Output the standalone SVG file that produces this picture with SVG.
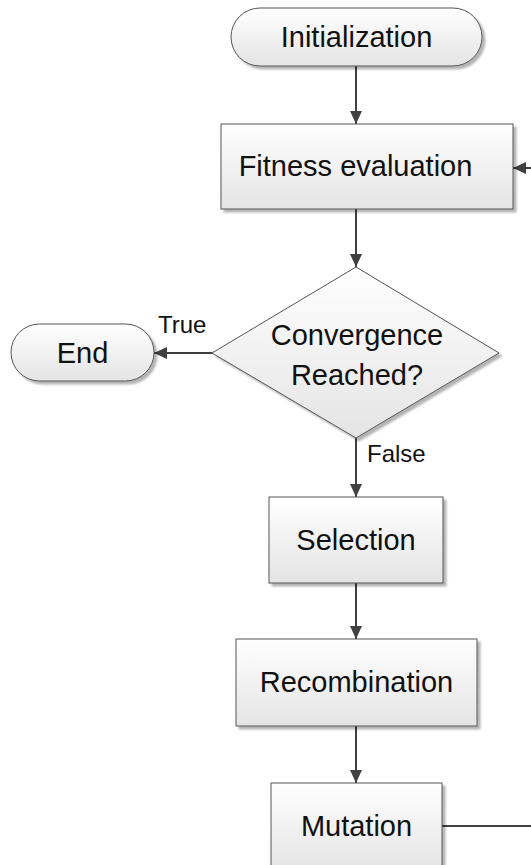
<svg xmlns="http://www.w3.org/2000/svg" width="531" height="865" viewBox="0 0 531 865">
<defs>
<linearGradient id="g" x1="0" y1="0" x2="0" y2="1">
<stop offset="0" stop-color="#ffffff"/>
<stop offset="1" stop-color="#e4e4e4"/>
</linearGradient>
<filter id="sh" x="-10%" y="-10%" width="130%" height="130%">
<feGaussianBlur in="SourceAlpha" stdDeviation="0.8"/>
<feOffset dx="3" dy="3" result="b"/>
<feComponentTransfer><feFuncA type="linear" slope="0.3"/></feComponentTransfer>
<feMerge><feMergeNode/><feMergeNode in="SourceGraphic"/></feMerge>
</filter>
<marker id="ah" viewBox="0 0 13 12" refX="13" refY="6" markerWidth="13" markerHeight="12" markerUnits="userSpaceOnUse" orient="auto">
<path d="M0,0 L13,6 L0,12 Z" fill="#404040"/>
</marker>
</defs>
<style>
.n{fill:url(#g);stroke:#555;stroke-width:1;filter:url(#sh)}
.t{font-family:"Liberation Sans",Arial,sans-serif;font-size:29px;fill:#111;text-anchor:middle}
.l{font-family:"Liberation Sans",Arial,sans-serif;font-size:24px;fill:#111}
.c{stroke:#404040;stroke-width:2;fill:none}
</style>
<g id="connectors">
<line class="c" x1="356" y1="66" x2="356" y2="124" marker-end="url(#ah)"/>
<line class="c" x1="531" y1="168" x2="513" y2="168" marker-end="url(#ah)"/>
<line class="c" x1="356" y1="209" x2="356" y2="267" marker-end="url(#ah)"/>
<line class="c" x1="212" y1="353" x2="154" y2="353" marker-end="url(#ah)"/>
<line class="c" x1="356" y1="438" x2="356" y2="497" marker-end="url(#ah)"/>
<line class="c" x1="356" y1="583" x2="356" y2="639" marker-end="url(#ah)"/>
<line class="c" x1="356" y1="726" x2="356" y2="783" marker-end="url(#ah)"/>
<line class="c" x1="442" y1="826" x2="531" y2="826" stroke-width="1.5"/>
<text class="l" x="158" y="333">True</text>
<text class="l" x="367" y="462">False</text>
</g>
<g id="initialization">
<rect class="n" x="231" y="8" width="251" height="58" rx="29" ry="29"/>
<text class="t" x="356.5" y="47">Initialization</text>
</g>
<g id="fitness">
<rect class="n" x="221" y="124" width="292" height="85"/>
<text class="t" x="355.5" y="176">Fitness evaluation</text>
</g>
<g id="convergence">
<polygon class="n" points="356,267 499,353 356,438 212,353"/>
<text class="t" x="357" y="345">Convergence</text>
<text class="t" x="357" y="385">Reached?</text>
</g>
<g id="end">
<rect class="n" x="11" y="324" width="143" height="57" rx="28.5" ry="28.5"/>
<text class="t" x="82.5" y="363">End</text>
</g>
<g id="selection">
<rect class="n" x="269" y="497" width="174" height="86"/>
<text class="t" x="356" y="550">Selection</text>
</g>
<g id="recombination">
<rect class="n" x="236" y="639" width="241" height="87"/>
<text class="t" x="356.5" y="692">Recombination</text>
</g>
<g id="mutation">
<rect class="n" x="271" y="783" width="171" height="87"/>
<text class="t" x="356.5" y="836">Mutation</text>
</g>
</svg>
